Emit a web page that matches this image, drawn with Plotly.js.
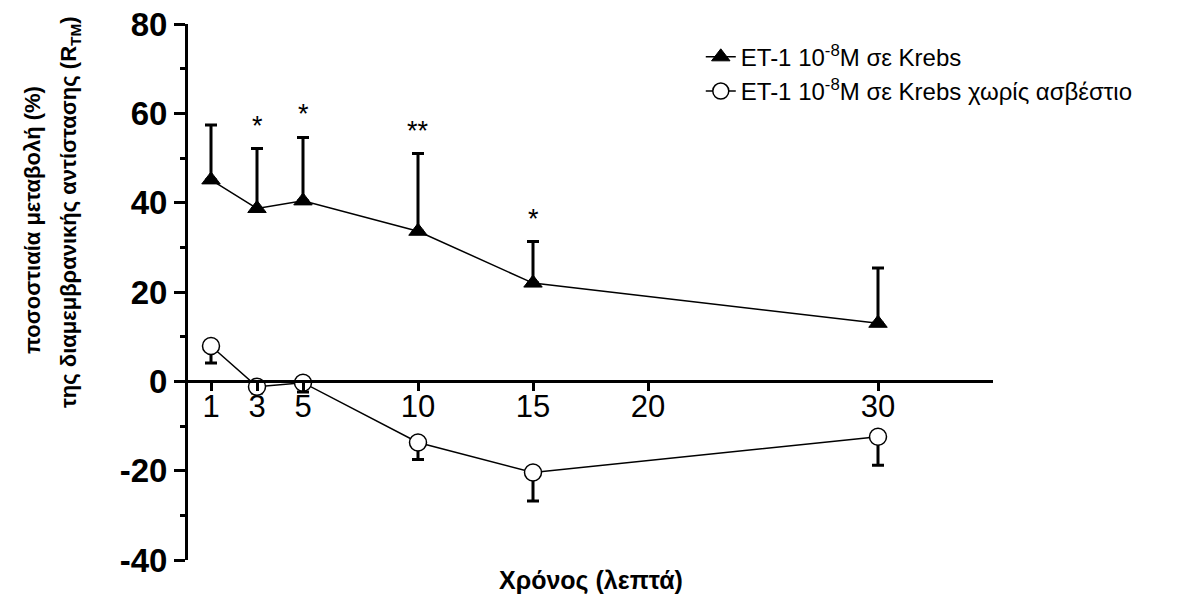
<!DOCTYPE html>
<html>
<head>
<meta charset="utf-8">
<script src="https://cdn.plot.ly/plotly-3.0.1.min.js"></script>
<style>
  html, body { margin: 0; padding: 0; background: #ffffff; }
  #chart { width: 1185px; height: 599px; }
</style>
</head>
<body>
<div id="chart"></div>
<script>
// Time points (minutes)
const timeMin = [1, 3, 5, 10, 15, 30];

// ET-1 10^-8 M in Krebs: mean % change of R_TM and SEM (upper side)
const krebsMean = [45.1, 38.7, 40.4, 33.6, 22.0, 13.0];
const krebsSem  = [12.3, 13.4, 14.2, 17.4, 9.3, 12.4];

// ET-1 10^-8 M in calcium-free Krebs: mean % change and SEM (lower side)
const caFreeMean = [7.9, -1.2, -0.3, -13.7, -20.4, -12.4];
const caFreeSem  = [3.8, 1.4, 2.1, 3.8, 6.4, 6.4];

// Significance marks over the Krebs series
const sigMarks = ['', '*', '*', '**', '*', ''];

// Axis ticks
const xTicks = [1, 3, 5, 10, 15, 20, 30];
const yTicks = [-40, -20, 0, 20, 40, 60, 80];

const legendKrebs  = 'ET-1 10<sup>-8</sup>M σε Krebs';
const legendCaFree = 'ET-1 10<sup>-8</sup>M σε Krebs χωρίς ασβέστιο';
const yTitleLine1 = 'ποσοστιαία μεταβολή (%)';
const yTitleLine2 = 'της διαμεμβρανικής αντίστασης (R<sub>TM</sub>)';
const xTitle = 'Χρόνος (λεπτά)';

const FONT = 'Liberation Sans, Arial, sans-serif';
const zeros = timeMin.map(() => 0);

const traceKrebs = {
  x: timeMin, y: krebsMean, name: legendKrebs,
  type: 'scatter', mode: 'lines+markers', cliponaxis: false,
  line: { color: '#000', width: 1.5 },
  marker: { symbol: 'triangle-up', size: 16, color: '#000', line: { color: '#000', width: 1 } },
  error_y: { type: 'data', symmetric: false, array: krebsSem, arrayminus: zeros,
             color: '#000', thickness: 3, width: 6 }
};

const traceCaFree = {
  x: timeMin, y: caFreeMean, name: legendCaFree,
  type: 'scatter', mode: 'lines+markers', cliponaxis: false,
  line: { color: '#000', width: 1.5 },
  marker: { symbol: 'circle', size: 17, color: '#fff', line: { color: '#000', width: 1.5 } },
  error_y: { type: 'data', symmetric: false, array: zeros, arrayminus: caFreeSem,
             color: '#000', thickness: 3, width: 6 }
};

// Asterisks sit just above the top of each Krebs error bar
const starNotes = [];
timeMin.forEach((t, i) => {
  if (!sigMarks[i]) return;
  starNotes.push({
    x: t, y: krebsMean[i] + krebsSem[i], xref: 'x', yref: 'y',
    text: sigMarks[i], showarrow: false, xanchor: 'center', yanchor: 'bottom',
    yshift: 6, font: { family: FONT, size: 27, color: '#000' }
  });
});

const layout = {
  width: 1185, height: 599,
  margin: { l: 188, r: 192, t: 24, b: 39 },
  paper_bgcolor: '#fff', plot_bgcolor: '#fff',
  showlegend: true,
  legend: {
    x: 0.637, y: 0.98, xanchor: 'left', yanchor: 'top',
    bgcolor: 'rgba(0,0,0,0)', font: { family: FONT, size: 24, color: '#000' },
    tracegroupgap: 0
  },
  xaxis: {
    range: [0, 35], anchor: 'free', position: 1 / 3,
    showline: true, linecolor: '#000', linewidth: 3,
    showgrid: false, zeroline: false,
    tickmode: 'array', tickvals: xTicks, ticktext: xTicks.map(String),
    ticks: 'outside', ticklen: 8, tickwidth: 3, tickcolor: '#000',
    ticklabelstandoff: -12,
    tickfont: { family: FONT, size: 31, color: '#000' }
  },
  yaxis: {
    range: [-40, 80],
    showline: true, linecolor: '#000', linewidth: 3,
    showgrid: false, zeroline: false,
    tickmode: 'array', tickvals: yTicks, ticktext: yTicks.map(String),
    ticks: 'outside', ticklen: 11, tickwidth: 3, tickcolor: '#000',
    tickfont: { family: FONT, size: 33, color: '#000', weight: 'bold' },
    minor: { dtick: 10, ticks: 'outside', ticklen: 5, tickwidth: 3, tickcolor: '#000', showgrid: false }
  },
  annotations: starNotes.concat([
    {
      xref: 'paper', yref: 'paper', x: (33 - 188) / 805, y: (560 - 220) / 536,
      xanchor: 'center', yanchor: 'middle', textangle: -90, showarrow: false,
      text: '<b>' + yTitleLine1 + '</b>',
      font: { family: FONT, size: 22, color: '#000' }
    },
    {
      xref: 'paper', yref: 'paper', x: (70 - 188) / 805, y: (560 - 212) / 536,
      xanchor: 'center', yanchor: 'middle', textangle: -90, showarrow: false,
      text: '<b>' + yTitleLine2 + '</b>',
      font: { family: FONT, size: 22, color: '#000' }
    },
    {
      xref: 'paper', yref: 'paper', x: 0.5, y: (560 - 580) / 536,
      xanchor: 'center', yanchor: 'middle', showarrow: false,
      text: '<b>' + xTitle + '</b>',
      font: { family: FONT, size: 25, color: '#000' }
    }
  ])
};

Plotly.newPlot('chart', [traceKrebs, traceCaFree], layout, { displayModeBar: false, staticPlot: true });
</script>
</body>
</html>
